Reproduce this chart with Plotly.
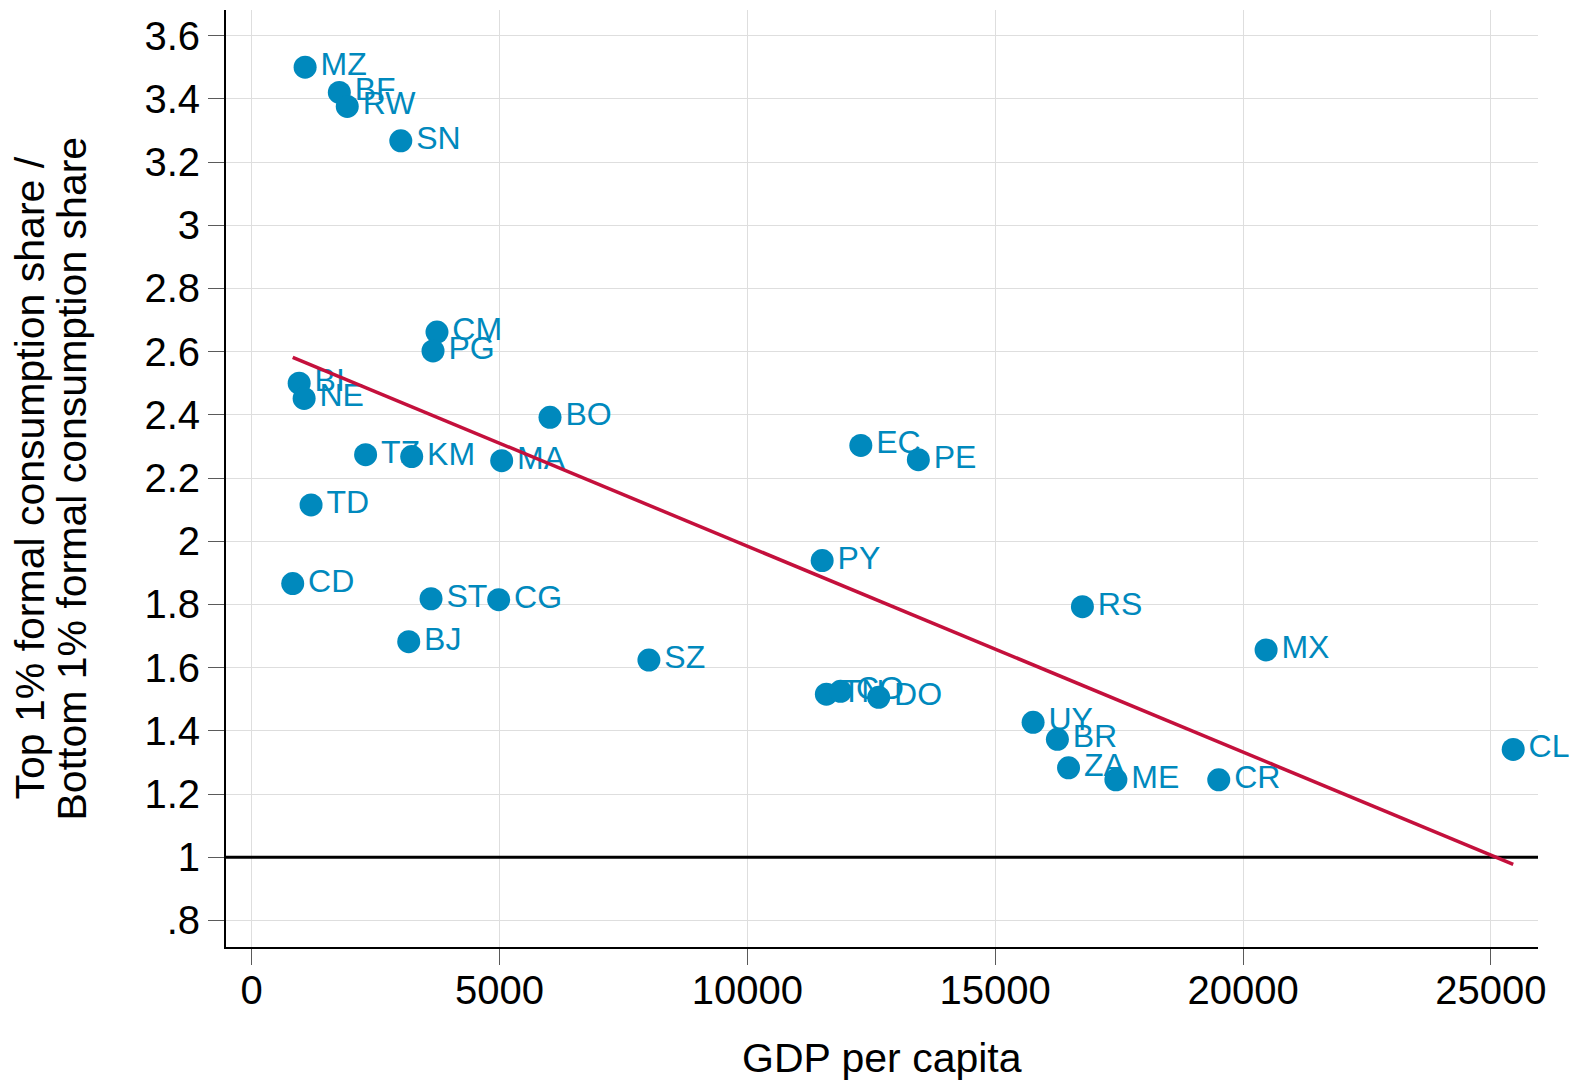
import numpy as np
import plotly.graph_objects as go

MARKER_COLOUR = '#0089BD'
FIT_COLOUR = '#C4103C'
GRID_COLOUR = 'rgb(222,222,222)'
FONT = 'Arial, Liberation Sans, sans-serif'

countries = ['MZ', 'BF', 'RW', 'SN', 'CM', 'PG', 'BI', 'NE', 'BO', 'TZ', 'KM', 'MA', 'TD',
             'EC', 'PE', 'PY', 'CD', 'ST', 'CG', 'BJ', 'SZ', 'RS', 'MX', 'TN', 'CO', 'DO',
             'UY', 'BR', 'ZA', 'ME', 'CR', 'CL']
gdp_per_capita = [1080, 1770, 1930, 3010, 3740, 3660, 960, 1060, 6020, 2300, 3230, 5045, 1200,
                  12290, 13450, 11510, 830, 3620, 4985, 3170, 8015, 16760, 20465, 11595, 11880, 12650,
                  15765, 16255, 16480, 17435, 19510, 25450]
top_bottom_ratio = [3.500, 3.420, 3.376, 3.267, 2.662, 2.602, 2.500, 2.452, 2.392, 2.274, 2.268, 2.255, 2.115,
                    2.303, 2.258, 1.939, 1.866, 1.818, 1.815, 1.682, 1.624, 1.793, 1.656, 1.516, 1.525, 1.506,
                    1.427, 1.373, 1.283, 1.245, 1.245, 1.341]

x_ticks = [0, 5000, 10000, 15000, 20000, 25000]
y_ticks = [0.8, 1.0, 1.2, 1.4, 1.6, 1.8, 2.0, 2.2, 2.4, 2.6, 2.8, 3.0, 3.2, 3.4, 3.6]
y_tick_labels = ['.8', '1', '1.2', '1.4', '1.6', '1.8', '2', '2.2', '2.4', '2.6', '2.8', '3', '3.2', '3.4', '3.6']
x_title = 'GDP per capita'
y_title_lines = ['Top 1% formal consumption share /', 'Bottom 1% formal consumption share']

X_RANGE = [-516, 25950]
FIG_W, FIG_H = 1580, 1083
PLOT_LEFT, PLOT_RIGHT, PLOT_TOP, PLOT_BOTTOM = 226, 1538, 10, 947
MARGIN = {'l': PLOT_LEFT, 'r': FIG_W - PLOT_RIGHT, 't': PLOT_TOP, 'b': FIG_H - PLOT_BOTTOM}
PLOT_W = PLOT_RIGHT - PLOT_LEFT
PLOT_H = PLOT_BOTTOM - PLOT_TOP

# linear fit over the observed range, as in a Stata lfit
slope, intercept = np.polyfit(gdp_per_capita, top_bottom_ratio, 1)
fit_x = [min(gdp_per_capita), max(gdp_per_capita)]
fit_y = [intercept + slope * v for v in fit_x]

fig = go.Figure()
fig.add_trace(go.Scatter(x=X_RANGE, y=[1, 1], mode='lines',
                         line={'color': 'black', 'width': 3}, hoverinfo='none'))
fig.add_trace(go.Scatter(x=gdp_per_capita, y=top_bottom_ratio, mode='markers+text',
                         text=countries, textposition='middle right', cliponaxis=False,
                         textfont={'color': MARKER_COLOUR, 'size': 32, 'family': FONT},
                         marker={'color': MARKER_COLOUR, 'size': 23}))
fig.add_trace(go.Scatter(x=fit_x, y=fit_y, mode='lines',
                         line={'color': FIT_COLOUR, 'width': 3.5}, hoverinfo='none'))

# axis titles as annotations so they sit exactly where Stata puts them
for line_text, x_px in zip(y_title_lines, [29, 71]):
    fig.add_annotation(text=line_text, textangle=-90, showarrow=False,
                       xref='paper', yref='paper', x=(x_px - PLOT_LEFT) / PLOT_W, y=0.5,
                       xanchor='center', yanchor='middle',
                       font={'size': 41, 'family': FONT, 'color': 'black'})
fig.add_annotation(text=x_title, showarrow=False, xref='paper', yref='paper',
                   x=0.5, y=(PLOT_BOTTOM - 1058) / PLOT_H,
                   xanchor='center', yanchor='middle',
                   font={'size': 41, 'family': FONT, 'color': 'black'})

fig.update_layout(width=FIG_W, height=FIG_H, showlegend=False,
                  plot_bgcolor='white', paper_bgcolor='white', margin=MARGIN,
                  font={'family': FONT, 'color': 'black', 'size': 40})
fig.update_xaxes(range=X_RANGE, tickvals=x_ticks, ticktext=[str(v) for v in x_ticks],
                 showgrid=True, gridcolor=GRID_COLOUR, gridwidth=1, zeroline=False,
                 showline=True, linecolor='black', linewidth=2,
                 ticks='outside', ticklen=16, tickcolor='rgb(90,90,90)', tickfont={'size': 40},
                 ticklabelstandoff=-9)
fig.update_yaxes(range=[0.716, 3.681], tickvals=y_ticks, ticktext=y_tick_labels,
                 showgrid=True, gridcolor=GRID_COLOUR, gridwidth=1, zeroline=False,
                 showline=True, linecolor='black', linewidth=2,
                 ticks='outside', ticklen=16, tickcolor='rgb(90,90,90)', tickfont={'size': 40})

# drop the default body margin so the figure fills the window exactly
fig.write_html("out.html", config={'displayModeBar': False},
               post_script="document.body.style.margin = '0';")
